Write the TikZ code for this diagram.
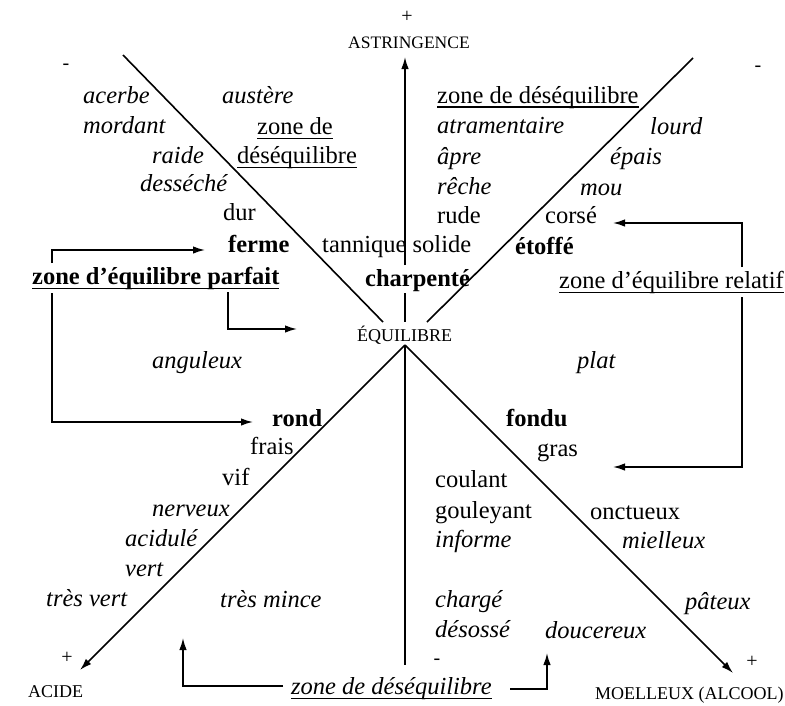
\documentclass[tikz,border=0pt]{standalone}
\usepackage{fontspec}
\setmainfont{Liberation Serif}
\usetikzlibrary{arrows.meta}
\newcommand\ulin[1]{\setbox0\hbox{#1}\rlap{\rule[-4.5pt]{\wd0}{1.3pt}}\box0}
\begin{document}
\begin{tikzpicture}[x=1pt,y=-1pt,
  w/.style={font=\fontsize{24.5}{28}\selectfont, inner sep=0pt, anchor=mid west, yshift=-4pt},
  wi/.style={w, font=\fontsize{24.5}{28}\selectfont\itshape},
  wb/.style={w, font=\fontsize{24.5}{28}\selectfont\bfseries},
  capl/.style={font=\fontsize{18}{20}\selectfont, inner sep=0pt, anchor=base west},
  sgn/.style={font=\fontsize{20}{24}\selectfont, inner sep=0pt},
  ln/.style={line width=1.6pt},
  arr/.style={ln, -{Latex[length=12pt,width=7.5pt]}}
]
\useasboundingbox[fill=white] (0,0) rectangle (785,705);

% axis labels and signs
\node[sgn] (pT) at (407,17) {+};
\node[capl, font=\fontsize{17.5}{20}\selectfont] (astr) at (348,48) {ASTRINGENCE};
\node[sgn] (mTL) at (66,67) {-};
\node[sgn] (mTR) at (758,69) {-};
\node[sgn] (pBL) at (67,658) {+};
\node[sgn] (pBR) at (752,662) {+};
\node[sgn] (mB) at (437,662) {-};
\node[capl] (acide) at (28,697) {ACIDE};
\node[capl] (moel) at (595,699) {MOELLEUX (ALCOOL)};
\node[capl] (equi) at (357,341) {ÉQUILIBRE};

% upper left
\node[wi] (acerbe) at (83,97) {acerbe};
\node[wi] (austere) at (222,97) {austère};
\node[wi] (mordant) at (83,127) {mordant};
\node[w] (zdA) at (257,128) {\ulin{zone de}};
\node[wi] (raide) at (152,157) {raide};
\node[w] (zdB) at (237,157) {\ulin{déséquilibre}};
\node[wi] (desseche) at (140,185) {desséché};
\node[w] (dur) at (223,214) {dur};
\node[wb] (ferme) at (228,246) {ferme};
\node[w] (tann) at (322,246) {tannique solide};
\node[wb] (charp) at (365,280) {charpenté};
\node[wb] (zep) at (32,278) {\ulin{zone d’équilibre parfait}};
\node[wi] (angul) at (152,362) {anguleux};

% lower left
\node[wb] (rond) at (272,420) {rond};
\node[w] (frais) at (250,448) {frais};
\node[w] (vif) at (222,479) {vif};
\node[wi] (nerv) at (152,510) {nerveux};
\node[wi] (acid) at (125,540) {acidulé};
\node[wi] (vert) at (125,570) {vert};
\node[wi] (tvert) at (46,600) {très vert};
\node[wi] (tmince) at (220,601) {très mince};

% upper right
\node[w] (zdC) at (437,97) {\ulin{zone de déséquilibre}};
\node[wi] (atram) at (437,127) {atramentaire};
\node[wi] (lourd) at (650,128) {lourd};
\node[wi] (apre) at (437,158) {âpre};
\node[wi] (epais) at (610,158) {épais};
\node[wi] (reche) at (437,188) {rêche};
\node[wi] (mou) at (580,189) {mou};
\node[w] (rude) at (437,217) {rude};
\node[w] (corse) at (545,217) {corsé};
\node[wb] (etoffe) at (515,248) {étoffé};
\node[w] (zer) at (559,282) {\ulin{zone d’équilibre relatif}};
\node[wi] (plat) at (577,362) {plat};

% lower right
\node[wb] (fondu) at (506,420) {fondu};
\node[w] (gras) at (537,450) {gras};
\node[w] (coulant) at (435,481) {coulant};
\node[w] (goul) at (435,512) {gouleyant};
\node[w] (onct) at (590,513) {onctueux};
\node[wi] (inform) at (435,541) {informe};
\node[wi] (miel) at (622,542) {mielleux};
\node[wi] (charge) at (435,601) {chargé};
\node[wi] (pateux) at (685,603) {pâteux};
\node[wi] (desoss) at (435,631) {désossé};
\node[wi] (douc) at (545,632) {doucereux};
\node[wi] (zdD) at (291,688) {\ulin{zone de déséquilibre}};

% axes
\coordinate (ctr) at (405,345);
\coordinate (ulEnd) at (383,322);
\coordinate (urEnd) at (427,322);
\coordinate (ulTop) at (123,55);
\coordinate (urTop) at (693,58);
\coordinate (tipA) at (405,57);
\coordinate (tipAc) at (80,670);
\coordinate (tipMo) at (733,673);
\coordinate (vTop) at (405,265);
\draw[ln] (ulTop) -- (ulEnd);
\draw[ln] (urTop) -- (urEnd);
\draw[arr] (vTop) -- (tipA);
\draw[ln] (405,293) -- (405,322);
\draw[ln] (ctr) -- (405,665);
\draw[arr] (ctr) -- (tipAc);
\draw[arr] (ctr) -- (tipMo);

% left bracket
\draw[arr] (52,263) -- (52,250) -- (205,250);
\draw[arr] (52,293) -- (52,422) -- (253,422);
\draw[arr] (228,292) -- (228,329) -- (297,329);

% right bracket
\draw[arr] (742,267) -- (742,223) -- (613,223);
\draw[arr] (742,297) -- (742,467) -- (613,467);

% bottom
\draw[arr] (283,686) -- (183,686) -- (183,638);
\draw[arr] (510,689) -- (547,689) -- (547,653);
\end{tikzpicture}
\end{document}
